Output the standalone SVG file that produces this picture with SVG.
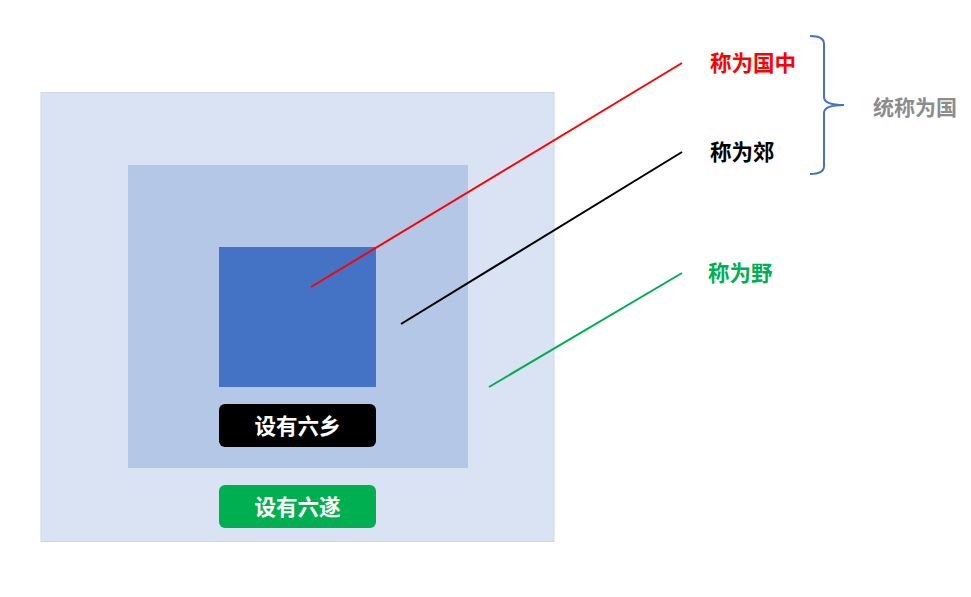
<svg xmlns="http://www.w3.org/2000/svg" width="971" height="597" viewBox="0 0 971 597">
<style>
.t{font-family:"Noto Sans CJK SC","Noto Sans CJK JP",sans-serif;font-weight:bold;dominant-baseline:central}
</style>
<rect width="971" height="597" fill="#fff"/>
<g id="outer"><rect x="41" y="92.5" width="513" height="449" fill="#DAE3F3" stroke="#D0D7E3" stroke-width="1"/></g>
<g id="middle"><rect x="128" y="165" width="340" height="303" fill="#B4C7E7"/></g>
<g id="inner"><rect x="219" y="247" width="157" height="140" fill="#4472C4"/></g>
<g id="xiang"><rect x="219" y="404" width="157" height="43" rx="6" fill="#000"/>
<text class="t" x="297.5" y="424" font-size="21.5" fill="#fff" text-anchor="middle">设有六乡</text></g>
<g id="sui"><rect x="219" y="485" width="157" height="43" rx="6" fill="#00B050"/>
<text class="t" x="297.5" y="505" font-size="21.5" fill="#fff" text-anchor="middle">设有六遂</text></g>
<g id="connectors" fill="none" stroke-width="2">
<line x1="311" y1="287" x2="682" y2="63" stroke="#FF0000"/>
<line x1="401" y1="324" x2="682" y2="152" stroke="#000"/>
<line x1="489" y1="387" x2="682" y2="273" stroke="#00B050"/>
<path d="M810,36 Q824,36 824,44 L824,97 Q824,105 844,105 Q824,105 824,113 L824,166 Q824,174 810,174" stroke="#4472C4"/>
</g>
<g id="guozhong"><text class="t" x="710" y="61.5" font-size="21.5" fill="#FF0000">称为国中</text></g>
<g id="jiao"><text class="t" x="710" y="150.5" font-size="21.5" fill="#000">称为郊</text></g>
<g id="ye"><text class="t" x="708" y="271.5" font-size="21.5" fill="#00B050">称为野</text></g>
<g id="guo"><text class="t" x="873" y="105.5" font-size="21" fill="#8C8C8C">统称为国</text></g>
</svg>
